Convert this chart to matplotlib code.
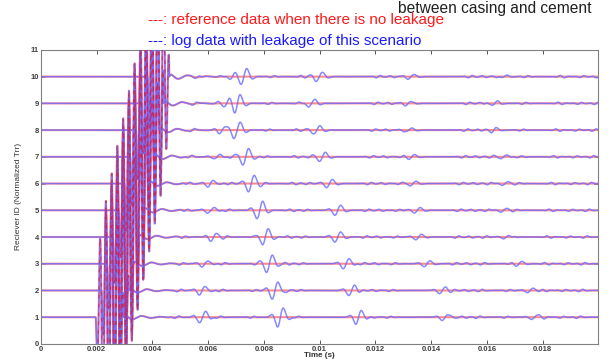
import numpy as np
import matplotlib
matplotlib.use("Agg")
import matplotlib.pyplot as plt

plt.rcParams['font.family'] = ['Liberation Sans', 'DejaVu Sans']

# ---------------- data ----------------
receivers = [1, 2, 3, 4, 5, 6, 7, 8, 9, 10]
# arrival of the casing wave (s) and duration of its ringing (s)
casing_arrival = [0.00197, 0.00218, 0.00238, 0.00259, 0.00280,
                  0.00300, 0.00321, 0.00342, 0.00362, 0.00383]
ring_duration = [0.00100, 0.00098, 0.00095, 0.00093, 0.00090,
                 0.00088, 0.00085, 0.00083, 0.00080, 0.00078]
casing_amp = [4.6, 4.6, 4.6, 4.6, 4.6, 4.6, 4.6, 4.6, 4.6, 4.6]
# leakage echoes (centre times, s) and amplitudes (blue trace only)
echo1_t = [0.00580, 0.00580, 0.00590, 0.00620, 0.00610, 0.00610, 0.00630, 0.00650, 0.00670, 0.00690]
echo1_a = [0.28, 0.20, 0.15, 0.15, 0.15, 0.15, 0.12, 0.12, 0.15, 0.12]
echo2_t = [0.00860, 0.00840, 0.00820, 0.00805, 0.00785, 0.00755, 0.00735, 0.00705, 0.00705, 0.00728]
echo2_a = [0.42, 0.38, 0.38, 0.36, 0.36, 0.36, 0.36, 0.36, 0.36, 0.36]
echo3_t = [0.01140, 0.01115, 0.01095, 0.01065, 0.01065, 0.01035, 0.01010, 0.00990, 0.00970, 0.01000]
echo3_a = [0.26, 0.22, 0.22, 0.22, 0.22, 0.18, 0.20, 0.20, 0.18, 0.20]
echo4_t = [0.01450, 0.01440, 0.01385, 0.01355, 0.01350, 0.01335, 0.01330, 0.01320, 0.01320, 0.01330]
echo4_a = [0.15, 0.14, 0.13, 0.12, 0.12, 0.10, 0.10, 0.10, 0.08, 0.10]
echo5_t = [0.01770, 0.01755, 0.01715, 0.01670, 0.01660, 0.01665, 0.01660, 0.01625, 0.01625, 0.01660]
echo5_a = [0.10, 0.10, 0.10, 0.08, 0.08, 0.08, 0.08, 0.07, 0.07, 0.07]
# small ripples present on the leakage trace everywhere
ripple_t = [0.0052, 0.0061, 0.0067, 0.0079, 0.0090, 0.0095, 0.0117, 0.0122,
            0.0128, 0.0150, 0.0155, 0.0160, 0.0170, 0.0183, 0.0190, 0.0196]
ripple_a = [0.05, -0.04, 0.05, 0.04, -0.05, 0.04, 0.05, -0.04,
            0.04, 0.05, -0.04, 0.05, 0.04, -0.05, 0.04, 0.05]

x_ticks = [0, 0.002, 0.004, 0.006, 0.008, 0.01, 0.012, 0.014, 0.016, 0.018]
x_tick_labels = ['0', '0.002', '0.004', '0.006', '0.008', '0.01', '0.012', '0.014', '0.016', '0.018']
y_ticks = list(range(0, 12))

title_black = "between casing and cement"
title_red = "---: reference data when there is no leakage"
title_blue = "---: log data with leakage of this scenario"

# ---------------- waveform building ----------------
t = np.linspace(0, 0.02, 6000)


def casing_wave(tau, amp, T):
    f = 4800.0
    inside = (tau > 0) & (tau < T)
    env = np.zeros_like(tau)
    env[inside] = np.sin(np.pi * tau[inside] / T) ** 0.6
    s = -amp * env * np.sin(2 * np.pi * f * tau)
    after = tau >= T
    ta = tau[after] - T
    s[after] += 0.14 * (1 - np.exp(-ta / 0.00005)) * np.exp(-ta / 0.0006) * np.cos(2 * np.pi * 1500 * ta)
    return s


def wavelet(tt, tc, a, f=2100.0, w=0.00028):
    tau = tt - tc
    return a * np.exp(-(tau / w) ** 2) * np.sin(2 * np.pi * f * tau)


fig = plt.figure(figsize=(6.08, 3.59), dpi=100)
ax = fig.add_axes([0.067, 0.042, 0.917, 0.819])

for i, r in enumerate(receivers):
    base = casing_wave(t - casing_arrival[i], casing_amp[i], ring_duration[i])
    ref = r + base
    leak = r + base
    leak = leak + wavelet(t, echo1_t[i], echo1_a[i])
    leak = leak + wavelet(t, echo2_t[i], echo2_a[i])
    leak = leak + wavelet(t, echo3_t[i], echo3_a[i])
    leak = leak + wavelet(t, echo4_t[i], echo4_a[i])
    leak = leak + wavelet(t, echo5_t[i], echo5_a[i])
    shift = (r - 5) * 0.00008
    for rt, ra in zip(ripple_t, ripple_a):
        leak = leak + wavelet(t, rt + shift, ra, f=3000.0, w=0.0002) * (t > casing_arrival[i] + 0.0012)
    ring = np.where((t > casing_arrival[i] + 0.00005) & (t < casing_arrival[i] + ring_duration[i]), ref, np.nan)
    ax.plot(t, ref, color='#ff8a8a', lw=1.5, zorder=2)
    ax.plot(t, leak, color='#6b6bff', lw=1.1, alpha=0.8, zorder=3)
    ax.plot(t, ring, color='#d02050', lw=0.9, dashes=(3, 4), alpha=0.7, zorder=4)

ax.set_xlim(0, 0.01999)
ax.set_ylim(0, 11)
ax.set_xticks(x_ticks)
ax.set_xticklabels(x_tick_labels)
ax.set_yticks(y_ticks)
ax.tick_params(direction='in', length=3, width=0.6, labelsize=5.5, colors='#404040',
               top=True, right=True, pad=1.5)
for lab in ax.get_xticklabels() + ax.get_yticklabels():
    lab.set_fontweight('bold')
for sp in ax.spines.values():
    sp.set_color('#808080')
    sp.set_linewidth(0.8)

ax.set_ylabel('Reciever ID (Normalized Trr)', fontsize=6, color='#303030', labelpad=6)
fig.text(0.525, 0.0, 'Time (s)', fontsize=5.8, fontweight='bold', color='#303030',
         ha='center', va='bottom')

fig.text(0.655, 0.998, title_black, color='#202020', fontsize=11.2, va='top', ha='left')
fig.text(0.243, 0.944, title_red, color='#ff1a1a', fontsize=11, va='center', ha='left')
fig.text(0.243, 0.886, title_blue, color='#1a1aff', fontsize=11, va='center', ha='left')

fig.savefig('out.png', dpi=100)
